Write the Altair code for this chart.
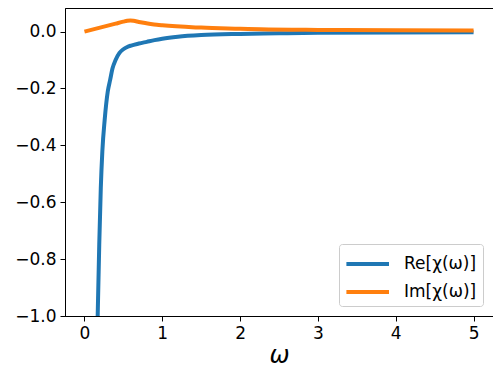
import altair as alt
import pandas as pd

re_w = [0.10, 0.12, 0.15, 0.17, 0.19, 0.21, 0.23, 0.26, 0.30, 0.33, 0.36, 0.40, 0.45, 0.50, 0.55, 0.60, 0.70, 0.80, 0.90, 1.00, 1.20, 1.50, 2.00, 2.50, 3.00, 4.00, 5.00]
re_v = [-3.0, -2.0, -1.3, -1.0, -0.75, -0.55, -0.42, -0.31, -0.21, -0.17, -0.13, -0.10, -0.075, -0.062, -0.054, -0.049, -0.042, -0.036, -0.030, -0.025, -0.018, -0.012, -0.008, -0.006, -0.004, -0.003, -0.002]

im_w = [0.0, 0.1, 0.2, 0.3, 0.4, 0.5, 0.55, 0.59, 0.63, 0.7, 0.78, 0.85, 0.93, 1.0, 1.5, 2.0, 2.26, 3.0, 4.0, 5.0]
im_v = [0.0, 0.007, 0.014, 0.021, 0.028, 0.035, 0.038, 0.039, 0.038, 0.034, 0.030, 0.027, 0.024, 0.022, 0.014, 0.010, 0.008, 0.006, 0.005, 0.004]

labels = ["Re[χ(ω)]", "Im[χ(ω)]"]

df = pd.concat([
    pd.DataFrame({"w": re_w, "v": re_v, "s": labels[0], "o": range(len(re_w))}),
    pd.DataFrame({"w": im_w, "v": im_v, "s": labels[1], "o": range(len(im_w))}),
])

chart = alt.Chart(df).mark_line(strokeWidth=4, clip=True, interpolate="monotone").encode(
    x=alt.X("w:Q", scale=alt.Scale(domain=[-0.25, 5.25], nice=False, zero=False),
            axis=alt.Axis(title="ω", values=[0, 1, 2, 3, 4, 5], format="d",
                          grid=False, titleFontSize=24, titleFontStyle="italic",
                          titleFontWeight="normal", titlePadding=2)),
    y=alt.Y("v:Q", scale=alt.Scale(domain=[-1.0, 0.083], nice=False, zero=False),
            axis=alt.Axis(title=None, values=[-1.0, -0.8, -0.6, -0.4, -0.2, 0.0],
                          format=".1f", grid=False)),
    color=alt.Color("s:N", scale=alt.Scale(domain=labels, range=["#1f77b4", "#ff7f0e"]),
                    legend=alt.Legend(title=None, orient="bottom-right", offset=10,
                                      symbolType="M-1.05,0H2.5", symbolSize=576,
                                      symbolStrokeWidth=4, labelFontSize=17,
                                      labelFont="DejaVu Sans", labelColor="#000",
                                      padding=6, rowPadding=6, labelOffset=31,
                                      strokeColor="#cccccc", cornerRadius=3,
                                      fillColor="white")),
    order="o:Q",
).properties(
    width=428, height=308,
    autosize=alt.AutoSizeParams(type="none"),
    padding={"left": 57, "top": 0, "right": 0, "bottom": 56},
).configure_view(
    stroke="black", strokeWidth=1
).configure_axis(
    labelFont="DejaVu Sans", titleFont="DejaVu Sans", labelFontSize=17,
    labelColor="#000", titleColor="#000", domainColor="#000", tickColor="#000",
    tickSize=5, labelPadding=4, domainWidth=1
)

chart.save("out.html", embed_options={"renderer": "svg", "actions": False})
